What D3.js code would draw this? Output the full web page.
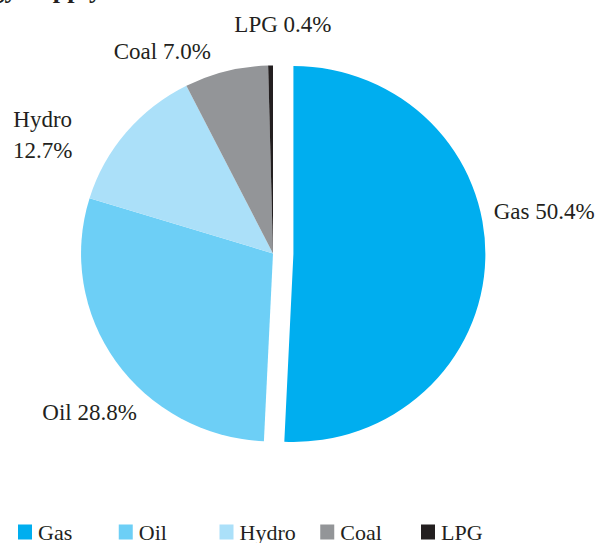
<!DOCTYPE html>
<html>
<head>
<meta charset="utf-8">
<script src="https://cdn.jsdelivr.net/npm/d3@7"></script>
<style>
  html, body { margin: 0; padding: 0; background: #fff; }
  svg { display: block; }
</style>
</head>
<body>
<script>
// data
const categories = ["Gas", "Oil", "Hydro", "Coal", "LPG"];
const shares = [50.4, 28.8, 12.7, 7.0, 0.4];
const colors = ["#00aeef", "#6dcff6", "#abe0f9", "#939598", "#231f20"];

const dims = {
    width: 601,
    height: 543,
    cx: 273,
    cy: 253.5,
    r: 188,
    sx: 1.021,      // pie is a touch wider than tall in the reference
    explode: 20
}

// where each slice label sits: angle shift from slice middle (deg), radius, anchor
const labelPlacement = {
    Gas:   { shift: -13.6, radius: 205, anchor: "start", lines: 1 },
    Oil:   { shift: -14.3, radius: 209, anchor: "end", lines: 1 },
    Hydro: { shift: -12.9, radius: 259, anchor: "middle", lines: 2 },
    Coal:  { shift: -14.5, radius: 231, anchor: "middle", lines: 1 },
    LPG:   { shift: 3.2, radius: 230, anchor: "middle", lines: 1 }
}

const data = categories.map((c, i) => ({ name: c, value: shares[i], color: colors[i] }));

let svg = d3.select("body")
    .append("svg")
    .attr("width", dims.width)
    .attr("height", dims.height);

// title, mostly cut off at the top edge in the reference
svg.append("text")
    .attr("x", 102)
    .attr("y", -2.5)
    .attr("text-anchor", "end")
    .attr("font-family", "Liberation Serif, serif")
    .attr("font-weight", "bold")
    .attr("font-size", 26)
    .attr("fill", "#231f20")
    .text("Energy Supply");

const pie = d3.pie()
    .sort(null)
    .value(d => d.value);

const arcs = pie(data);

const arc = d3.arc()
    .innerRadius(0)
    .outerRadius(dims.r);

const pieG = svg.append("g")
    .attr("transform", `translate(${dims.cx},${dims.cy}) scale(${dims.sx},1)`);

const midAngle = d => (d.startAngle + d.endAngle) / 2;

pieG.selectAll("path")
    .data(arcs)
    .enter()
    .append("path")
    .attr("d", arc)
    .attr("fill", d => d.data.color)
    .attr("transform", d => {
        if (d.index !== 0) return null;
        const a = midAngle(d);
        return `translate(${dims.explode * Math.sin(a)},${-dims.explode * Math.cos(a)})`;
    });

// slice labels
const fmt = d3.format(".1f");
const labelG = svg.append("g")
    .attr("font-family", "Liberation Serif, serif")
    .attr("font-size", 23)
    .attr("fill", "#231f20");

arcs.forEach(d => {
    const p = labelPlacement[d.data.name];
    let ox = dims.cx, oy = dims.cy;
    if (d.index === 0) {
        const m = midAngle(d);
        ox += dims.explode * dims.sx * Math.sin(m);
        oy -= dims.explode * Math.cos(m);
    }
    const a = midAngle(d) + p.shift * Math.PI / 180;
    const x = ox + p.radius * Math.sin(a);
    const y = oy - p.radius * Math.cos(a);
    const t = labelG.append("text")
        .attr("x", x)
        .attr("y", y)
        .attr("text-anchor", p.anchor);
    const pct = fmt(d.data.value) + "%";
    if (p.lines === 2) {
        t.append("tspan").attr("x", x).attr("dy", "-0.34em").text(d.data.name);
        t.append("tspan").attr("x", x).attr("dy", "1.36em").text(pct);
    } else {
        t.attr("dy", "0.35em").text(d.data.name + " " + pct);
    }
});

// legend
const legendX = d3.scalePoint()
    .domain(categories)
    .range([18, 421]);

const legend = svg.append("g")
    .attr("font-family", "Liberation Serif, serif")
    .attr("font-size", 22)
    .attr("fill", "#231f20");

const item = legend.selectAll("g")
    .data(data)
    .enter()
    .append("g")
    .attr("transform", d => `translate(${legendX(d.name)},539.5)`);

item.append("rect")
    .attr("x", 0)
    .attr("y", -15)
    .attr("width", 14)
    .attr("height", 15)
    .attr("fill", d => d.color);

item.append("text")
    .attr("x", 20)
    .attr("y", 0)
    .text(d => d.name);
</script>
</body>
</html>
